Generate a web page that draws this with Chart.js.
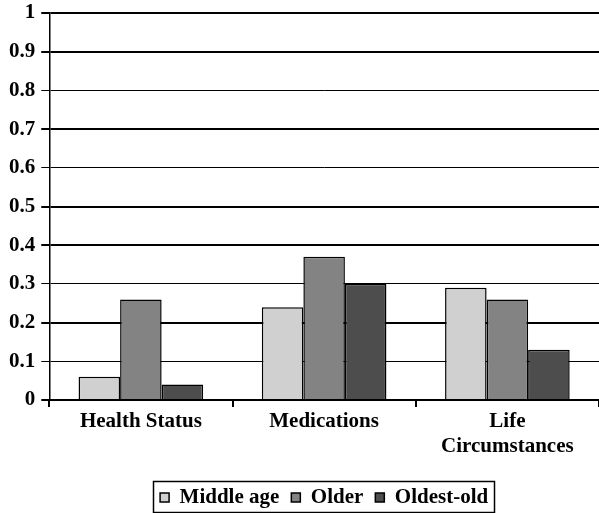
<!DOCTYPE html>
<html>
<head>
<meta charset="utf-8">
<script src="https://cdn.jsdelivr.net/npm/chart.js@4.4.1/dist/chart.umd.min.js"></script>
<style>
  html, body { margin: 0; padding: 0; background: #ffffff; }
  #wrap { width: 599px; height: 513px; position: relative; }
</style>
</head>
<body>
<div id="wrap"><canvas id="chart"></canvas></div>
<script>
// Categories and series values
const categories = ['Health Status', 'Medications', ['Life', 'Circumstances']];
const middleAge = [0.06, 0.24, 0.29];
const older     = [0.26, 0.37, 0.26];
const oldestOld = [0.04, 0.30, 0.13];
const seriesNames = ['Middle age', 'Older', 'Oldest-old'];

// y gridlines drawn with a lighter stroke
const thinGridValues = [0.1, 0.3, 0.6, 0.8];

const serif = "'Liberation Serif', 'Times New Roman', serif";

// Box drawn around the legend items
const legendFrame = {
  id: 'legendFrame',
  afterDraw(chart) {
    const lg = chart.legend;
    if (!lg || !lg.legendHitBoxes || !lg.legendHitBoxes.length) return;
    const boxes = lg.legendHitBoxes;
    let left = Infinity, right = -Infinity, top = Infinity, bottom = -Infinity;
    boxes.forEach(b => {
      left = Math.min(left, b.left);
      right = Math.max(right, b.left + b.width);
      top = Math.min(top, b.top);
      bottom = Math.max(bottom, b.top + b.height);
    });
    const ctx = chart.ctx;
    ctx.save();
    ctx.strokeStyle = '#000';
    ctx.lineWidth = 1.5;
    ctx.strokeRect(Math.round(left - 7) + 0.5, Math.round(top - 6) + 0.5,
                   Math.round(right - left + 13), Math.round(bottom - top + 10));
    ctx.restore();
  }
};

new Chart(document.getElementById('chart'), {
  type: 'bar',
  data: {
    labels: categories,
    datasets: [
      { label: seriesNames[0], data: middleAge, backgroundColor: '#d0d0d0' },
      { label: seriesNames[1], data: older,     backgroundColor: '#838383' },
      { label: seriesNames[2], data: oldestOld, backgroundColor: '#4d4d4d' }
    ].map(d => Object.assign(d, {
      borderColor: '#000000',
      borderWidth: 1.5,
      categoryPercentage: 0.68,
      barPercentage: 1.0
    }))
  },
  options: {
    responsive: true,
    maintainAspectRatio: false,
    animation: false,
    layout: { padding: { left: 3, right: 0, top: 0, bottom: -5 } },
    plugins: {
      tooltip: { enabled: false },
      legend: {
        position: 'bottom',
        fullSize: false,
        labels: {
          color: '#000',
          font: { family: serif, size: 21, weight: 'bold' },
          boxWidth: 9,
          boxHeight: 9,
          padding: 12
        }
      }
    },
    scales: {
      x: {
        grid: {
          display: true,
          drawOnChartArea: false,
          drawTicks: true,
          tickLength: 7,
          color: '#000',
          lineWidth: 2,
          offset: true
        },
        border: { display: true, color: '#000', width: 2 },
        ticks: {
          color: '#000',
          padding: 2,
          font: { family: serif, size: 21, weight: 'bold' },
          maxRotation: 0,
          autoSkip: false
        },
        // leave room between the category labels and the legend
        afterFit(scale) { scale.height = 75; }
      },
      y: {
        min: 0,
        max: 1,
        ticks: {
          stepSize: 0.1,
          color: '#000',
          padding: 6,
          font: { family: serif, size: 21, weight: 'bold', lineHeight: 0.67 },
          callback: (v) => String(Math.round(v * 10) / 10)
        },
        grid: {
          color: '#000',
          tickLength: 8,
          lineWidth: (c) => {
            const v = Math.round(c.tick.value * 10) / 10;
            return thinGridValues.includes(v) ? 1 : 2;
          }
        },
        border: { display: true, color: '#000', width: 1.5 }
      }
    }
  },
  plugins: [legendFrame]
});
</script>
</body>
</html>
